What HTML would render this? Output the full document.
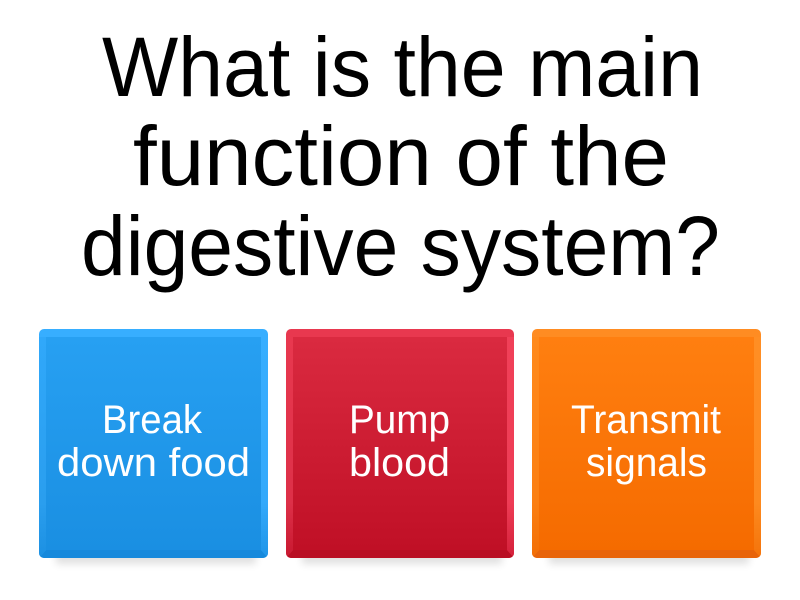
<!DOCTYPE html>
<html><head><meta charset="utf-8"><style>
html,body{margin:0;padding:0;background:#fff}
svg{display:block}
text{font-family:"Liberation Sans",sans-serif}
</style></head><body>
<svg width="800" height="600" viewBox="0 0 800 600" xmlns="http://www.w3.org/2000/svg">
<defs>
<linearGradient id="b" x1="0" y1="0" x2="0" y2="1"><stop offset="0" stop-color="#27a0f2"/><stop offset="1" stop-color="#1a8fe2"/></linearGradient>
<linearGradient id="r" x1="0" y1="0" x2="0" y2="1"><stop offset="0" stop-color="#da2a40"/><stop offset="1" stop-color="#c01026"/></linearGradient>
<linearGradient id="o" x1="0" y1="0" x2="0" y2="1"><stop offset="0" stop-color="#ff7f10"/><stop offset="1" stop-color="#f56b00"/></linearGradient>
<linearGradient id="bR" x1="0" y1="0" x2="0" y2="1"><stop offset="0" stop-color="#37aeff"/><stop offset=".75" stop-color="#33a9fb"/><stop offset="1" stop-color="#1f95e8"/></linearGradient>
<linearGradient id="bL" x1="0" y1="0" x2="0" y2="1"><stop offset="0" stop-color="#30a8fa"/><stop offset=".75" stop-color="#2a9eee"/><stop offset="1" stop-color="#1c90e2"/></linearGradient>
<linearGradient id="rR" x1="0" y1="0" x2="0" y2="1"><stop offset="0" stop-color="#f04058"/><stop offset=".75" stop-color="#ee3c55"/><stop offset="1" stop-color="#d4203a"/></linearGradient>
<linearGradient id="rL" x1="0" y1="0" x2="0" y2="1"><stop offset="0" stop-color="#e8384f"/><stop offset=".75" stop-color="#dd3048"/><stop offset="1" stop-color="#c81830"/></linearGradient>
<linearGradient id="oR" x1="0" y1="0" x2="0" y2="1"><stop offset="0" stop-color="#ff8e24"/><stop offset=".75" stop-color="#fd8a1f"/><stop offset="1" stop-color="#f4730a"/></linearGradient>
<linearGradient id="oL" x1="0" y1="0" x2="0" y2="1"><stop offset="0" stop-color="#ff8a1c"/><stop offset=".75" stop-color="#fb7f12"/><stop offset="1" stop-color="#f26e05"/></linearGradient>
<clipPath id="c1"><rect x="39" y="329" width="229" height="229" rx="5"/></clipPath>
<clipPath id="c2"><rect x="286" y="329" width="228" height="229" rx="5"/></clipPath>
<clipPath id="c3"><rect x="532" y="329" width="229" height="229" rx="5"/></clipPath>
<filter id="s" x="-20%" y="-50%" width="140%" height="200%"><feGaussianBlur stdDeviation="4"/></filter>
</defs>
<g fill="#000" font-size="84">
<text x="102" y="96" textLength="601" lengthAdjust="spacingAndGlyphs">What is the main</text>
<text x="133" y="185" textLength="536" lengthAdjust="spacingAndGlyphs">function of the</text>
<text x="81" y="275" textLength="639" lengthAdjust="spacingAndGlyphs">digestive system?</text>
</g>
<g fill="#000" opacity=".12" filter="url(#s)">
<rect x="56" y="550" width="200" height="14"/>
<rect x="302" y="550" width="200" height="14"/>
<rect x="549" y="550" width="200" height="14"/>
</g>
<g clip-path="url(#c1)">
<rect x="39" y="329" width="229" height="229" fill="#37aeff"/>
<polygon points="39,337 46,337 46,550 39,558" fill="url(#bL)"/>
<polygon points="268,337 261,337 261,550 268,558" fill="url(#bR)"/>
<polygon points="46,550 261,550 268,558 39,558" fill="#1689dc"/>
<rect x="46" y="337" width="215" height="213" fill="url(#b)"/>
</g>
<g clip-path="url(#c2)">
<rect x="286" y="329" width="228" height="229" fill="#e8384f"/>
<polygon points="286,337 293,337 293,550 286,558" fill="url(#rL)"/>
<polygon points="514,337 507,337 507,550 514,558" fill="url(#rR)"/>
<polygon points="293,550 507,550 514,558 286,558" fill="#b90e23"/>
<rect x="293" y="337" width="214" height="213" fill="url(#r)"/>
</g>
<g clip-path="url(#c3)">
<rect x="532" y="329" width="229" height="229" fill="#ff8c22"/>
<polygon points="532,337 539,337 539,550 532,558" fill="url(#oL)"/>
<polygon points="761,337 754,337 754,550 761,558" fill="url(#oR)"/>
<polygon points="539,550 754,550 761,558 532,558" fill="#e8640a"/>
<rect x="539" y="337" width="215" height="213" fill="url(#o)"/>
</g>
<g fill="#fff" font-size="40">
<text x="102" y="433" textLength="100" lengthAdjust="spacingAndGlyphs">Break</text>
<text x="57" y="476" textLength="193" lengthAdjust="spacingAndGlyphs">down food</text>
<text x="349" y="433" textLength="101" lengthAdjust="spacingAndGlyphs">Pump</text>
<text x="349" y="476" textLength="101" lengthAdjust="spacingAndGlyphs">blood</text>
<text x="571" y="433" textLength="150" lengthAdjust="spacingAndGlyphs">Transmit</text>
<text x="586" y="476" textLength="121" lengthAdjust="spacingAndGlyphs">signals</text>
</g>
</svg>
</body></html>
